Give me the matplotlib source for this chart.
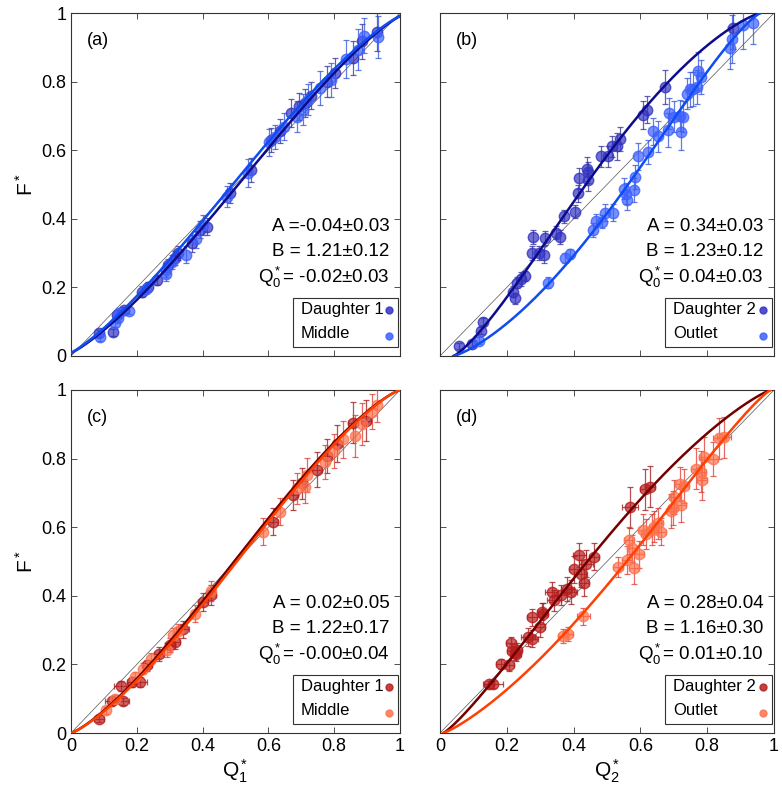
import matplotlib

matplotlib.use("Agg")
import matplotlib.pyplot as plt
import numpy as np
from matplotlib.patches import Rectangle

plt.rcParams["font.family"] = ["Liberation Sans", "DejaVu Sans"]
plt.rcParams["mathtext.fontset"] = "custom"
plt.rcParams["mathtext.rm"] = "Liberation Sans"
plt.rcParams["mathtext.it"] = "Liberation Sans"
plt.rcParams["mathtext.bf"] = "Liberation Sans:bold"

# ---- panel (a): Daughter 1 / Middle ----
a_d_x = [0.085, 0.127, 0.139, 0.162, 0.215, 0.235, 0.26, 0.296, 0.316, 0.326, 0.367, 0.392, 0.412,
         0.483, 0.546, 0.607, 0.635, 0.668, 0.694, 0.711, 0.731, 0.777, 0.803, 0.858, 0.883, 0.929]
a_d_y = [0.066, 0.069, 0.12, 0.134, 0.188, 0.202, 0.222, 0.264, 0.285, 0.30, 0.329, 0.368, 0.377,
         0.475, 0.543, 0.63, 0.655, 0.708, 0.728, 0.737, 0.759, 0.80, 0.825, 0.869, 0.917, 0.944]
a_d_e = [0.01, 0.01, 0.015, 0.01, 0.015, 0.015, 0.015, 0.02, 0.02, 0.02, 0.025, 0.025, 0.025,
         0.03, 0.035, 0.035, 0.035, 0.04, 0.04, 0.04, 0.04, 0.045, 0.045, 0.05, 0.05, 0.055]
a_m_x = [0.088, 0.134, 0.144, 0.147, 0.177, 0.228, 0.289, 0.29, 0.306, 0.35, 0.38, 0.402, 0.473,
         0.539, 0.603, 0.62, 0.647, 0.688, 0.706, 0.721, 0.757, 0.789, 0.836, 0.873, 0.89, 0.934]
a_m_y = [0.054, 0.095, 0.11, 0.126, 0.132, 0.195, 0.251, 0.239, 0.275, 0.295, 0.34, 0.382, 0.465,
         0.533, 0.623, 0.638, 0.669, 0.697, 0.718, 0.747, 0.781, 0.805, 0.866, 0.893, 0.934, 0.93]
a_m_e = [0.01, 0.01, 0.01, 0.015, 0.01, 0.015, 0.02, 0.02, 0.02, 0.025, 0.025, 0.03, 0.03,
         0.04, 0.04, 0.035, 0.04, 0.045, 0.045, 0.045, 0.05, 0.05, 0.055, 0.06, 0.05, 0.06]

# ---- panel (b): Daughter 2 / Outlet ----
b_d_x = [0.058, 0.095, 0.122, 0.128, 0.218, 0.225, 0.232, 0.242, 0.254, 0.275, 0.277, 0.295, 0.31,
         0.314, 0.347, 0.359, 0.371, 0.404, 0.414, 0.417, 0.439, 0.444, 0.444, 0.481, 0.504, 0.514,
         0.529, 0.539, 0.609, 0.621, 0.674, 0.878]
b_d_y = [0.029, 0.035, 0.074, 0.10, 0.188, 0.168, 0.214, 0.224, 0.233, 0.30, 0.346, 0.30, 0.295,
         0.343, 0.36, 0.346, 0.407, 0.421, 0.475, 0.518, 0.545, 0.535, 0.512, 0.582, 0.582, 0.611,
         0.611, 0.632, 0.703, 0.718, 0.784, 0.956]
b_d_e = [0.01, 0.01, 0.01, 0.01, 0.015, 0.015, 0.015, 0.02, 0.015, 0.02, 0.02, 0.02, 0.025,
         0.02, 0.02, 0.02, 0.02, 0.02, 0.025, 0.03, 0.035, 0.03, 0.03, 0.03, 0.03, 0.03,
         0.04, 0.035, 0.04, 0.04, 0.05, 0.06]
b_o_x = [0.118, 0.324, 0.374, 0.389, 0.457, 0.467, 0.484, 0.494, 0.517, 0.551, 0.557, 0.561, 0.581,
         0.584, 0.594, 0.624, 0.637, 0.654, 0.684, 0.687, 0.70, 0.72, 0.723, 0.728, 0.74, 0.748,
         0.758, 0.768, 0.773, 0.78, 0.868, 0.873, 0.906, 0.938]
b_o_y = [0.045, 0.214, 0.285, 0.298, 0.368, 0.395, 0.392, 0.418, 0.418, 0.488, 0.473, 0.455, 0.484,
         0.523, 0.582, 0.596, 0.655, 0.64, 0.658, 0.708, 0.698, 0.70, 0.652, 0.698, 0.765, 0.777,
         0.779, 0.785, 0.83, 0.813, 0.898, 0.924, 0.966, 0.971]
b_o_e = [0.01, 0.015, 0.015, 0.015, 0.02, 0.02, 0.02, 0.025, 0.025, 0.03, 0.03, 0.03, 0.035,
         0.035, 0.04, 0.035, 0.04, 0.045, 0.05, 0.045, 0.045, 0.045, 0.05, 0.045, 0.045, 0.05,
         0.05, 0.05, 0.055, 0.05, 0.06, 0.07, 0.07, 0.06]

# ---- panel (c): Daughter 1 / Middle ----
c_d_x = [0.086, 0.124, 0.152, 0.157, 0.184, 0.21, 0.232, 0.268, 0.301, 0.316, 0.339, 0.402, 0.427,
         0.615, 0.676, 0.701, 0.747, 0.777, 0.81, 0.858, 0.897]
c_d_y = [0.042, 0.093, 0.136, 0.093, 0.149, 0.149, 0.197, 0.23, 0.256, 0.266, 0.302, 0.382, 0.402,
         0.616, 0.694, 0.728, 0.768, 0.807, 0.844, 0.905, 0.911]
c_d_e = [0.01, 0.01, 0.015, 0.01, 0.015, 0.015, 0.015, 0.02, 0.02, 0.02, 0.025, 0.025, 0.03,
         0.04, 0.045, 0.045, 0.05, 0.05, 0.055, 0.06, 0.06]
c_d_xe = [0.015, 0.02, 0.02, 0.02, 0.015, 0.02, 0.015, 0.015, 0.015, 0.015, 0.02, 0.015, 0.015,
          0.015, 0.015, 0.015, 0.015, 0.015, 0.015, 0.015, 0.015]
c_m_x = [0.106, 0.134, 0.195, 0.218, 0.242, 0.291, 0.309, 0.326, 0.377, 0.425, 0.585, 0.635, 0.688,
         0.711, 0.716, 0.772, 0.799, 0.828, 0.863, 0.883, 0.914, 0.931]
c_m_y = [0.066, 0.10, 0.163, 0.188, 0.217, 0.243, 0.285, 0.298, 0.348, 0.414, 0.587, 0.645, 0.713,
         0.716, 0.752, 0.791, 0.823, 0.856, 0.866, 0.901, 0.937, 0.956]
c_m_e = [0.01, 0.01, 0.015, 0.015, 0.015, 0.02, 0.02, 0.02, 0.025, 0.03, 0.04, 0.04, 0.045,
         0.045, 0.05, 0.05, 0.05, 0.055, 0.06, 0.06, 0.05, 0.05]

# ---- panel (d): Daughter 2 / Outlet ----
d_d_x = [0.148, 0.16, 0.182, 0.208, 0.212, 0.215, 0.224, 0.228, 0.232, 0.264, 0.274, 0.274, 0.299,
         0.304, 0.309, 0.334, 0.341, 0.361, 0.381, 0.391, 0.401, 0.417, 0.421, 0.431, 0.437, 0.461,
         0.569, 0.614, 0.629]
d_d_y = [0.142, 0.142, 0.202, 0.197, 0.261, 0.239, 0.232, 0.23, 0.243, 0.28, 0.337, 0.275, 0.309,
         0.353, 0.348, 0.411, 0.387, 0.402, 0.421, 0.411, 0.477, 0.518, 0.465, 0.438, 0.494, 0.514,
         0.658, 0.71, 0.718]
d_d_e = [0.01, 0.01, 0.015, 0.015, 0.02, 0.02, 0.02, 0.02, 0.02, 0.025, 0.025, 0.025, 0.03,
         0.025, 0.03, 0.03, 0.03, 0.03, 0.035, 0.035, 0.04, 0.035, 0.04, 0.04, 0.04, 0.04,
         0.06, 0.06, 0.06]
d_d_xe = [0.015, 0.03, 0.015, 0.015, 0.015, 0.015, 0.015, 0.015, 0.015, 0.02, 0.015, 0.02, 0.015,
          0.015, 0.015, 0.02, 0.02, 0.02, 0.02, 0.02, 0.015, 0.02, 0.02, 0.015, 0.02, 0.015,
          0.025, 0.015, 0.015]
d_o_x = [0.369, 0.384, 0.429, 0.534, 0.559, 0.567, 0.574, 0.581, 0.597, 0.609, 0.617, 0.634, 0.641,
         0.654, 0.661, 0.691, 0.697, 0.701, 0.719, 0.723, 0.731, 0.767, 0.781, 0.784, 0.789, 0.816,
         0.836, 0.85]
d_o_y = [0.282, 0.288, 0.34, 0.484, 0.504, 0.562, 0.538, 0.48, 0.521, 0.593, 0.58, 0.593, 0.601,
         0.611, 0.587, 0.648, 0.655, 0.689, 0.726, 0.665, 0.72, 0.771, 0.762, 0.739, 0.804, 0.798,
         0.859, 0.862]
d_o_e = [0.02, 0.02, 0.025, 0.03, 0.04, 0.04, 0.04, 0.045, 0.04, 0.045, 0.045, 0.045, 0.045,
         0.045, 0.04, 0.05, 0.05, 0.05, 0.05, 0.05, 0.05, 0.06, 0.06, 0.06, 0.06, 0.05,
         0.06, 0.06]
d_o_xe = [0.015, 0.015, 0.02, 0.015, 0.015, 0.015, 0.015, 0.015, 0.015, 0.015, 0.015, 0.015, 0.015,
          0.015, 0.015, 0.015, 0.015, 0.015, 0.015, 0.015, 0.015, 0.015, 0.015, 0.015, 0.015, 0.015,
          0.02, 0.02]

# fit parameters (A, B, Q0) printed on each panel
fit_a = (-0.04, 1.21, -0.02)
fit_b = (0.34, 1.23, 0.04)
fit_c = (0.02, 1.22, -0.00)
fit_d = (0.28, 1.16, 0.01)
fit_text_a = ["A =-0.04±0.03", "B = 1.21±0.12", "Q$_0^*$= -0.02±0.03"]
fit_text_b = ["A = 0.34±0.03", "B = 1.23±0.12", "Q$_0^*$= 0.04±0.03"]
fit_text_c = ["A = 0.02±0.05", "B = 1.22±0.17", "Q$_0^*$= -0.00±0.04"]
fit_text_d = ["A = 0.28±0.04", "B = 1.16±0.30", "Q$_0^*$= 0.01±0.10"]

BLUE_DARK = dict(marker=(0.2, 0.2, 0.76), err=(0.18, 0.18, 0.6), line=(0.05, 0.05, 0.55))
BLUE_LIGHT = dict(marker=(0.24, 0.38, 1.0), err=(0.18, 0.32, 0.85), line=(0.06, 0.3, 0.95))
RED_DARK = dict(marker=(0.72, 0.12, 0.12), err=(0.62, 0.08, 0.08), line=(0.45, 0.0, 0.0))
RED_LIGHT = dict(marker=(1.0, 0.45, 0.3), err=(0.88, 0.22, 0.18), line=(1.0, 0.25, 0.0))


def pries(q, A, B, q0):
    z = (q - q0) / (1 - 2 * q0)
    return 1.0 / (1.0 + np.exp(-(A + B * np.log(z / (1 - z)))))


def draw_series(ax, x, y, ye, xe, style):
    ax.errorbar(x, y, yerr=ye, xerr=xe, fmt="o", ms=7.5, mfc=style["marker"] + (0.7,),
                mec=style["marker"] + (0.8,), ecolor=style["err"] + (0.75,),
                elinewidth=0.9, capsize=2.2, capthick=0.9, zorder=3)


def draw_legend(ax, names, st1, st2):
    ax.add_patch(Rectangle((0.675, 0.025), 0.318, 0.143, transform=ax.transAxes,
                           facecolor="white", edgecolor="#333333", lw=0.8, zorder=6))
    for name, st, ty, my in [(names[0], st1, 0.135, 0.135), (names[1], st2, 0.066, 0.058)]:
        ax.text(0.698, ty, name, fontsize=12, ha="left", va="center",
                transform=ax.transAxes, zorder=7)
        ax.plot([0.968], [my], "o", ms=5, color=st["marker"], alpha=0.85,
                transform=ax.transAxes, zorder=7)


def draw_panel(ax, tag, s1, s2, fit, texts, names, st1, st2, xlab, ylab):
    ax.plot([0, 1], [0, 1], color="#555555", lw=0.5, zorder=1)
    draw_series(ax, *s1, st1)
    draw_series(ax, *s2, st2)
    A, B, q0 = fit
    q = np.linspace(q0 + 1e-4, 1 - q0 - 1e-4, 400)
    ax.plot(q, pries(q, A, B, q0), color=st1["line"], lw=1.8, zorder=4)
    ax.plot(q, pries(q, -A, B, q0), color=st2["line"], lw=1.8, zorder=4)
    ax.set_xlim(0, 1)
    ax.set_ylim(0, 1)
    ticks = [0, 0.2, 0.4, 0.6, 0.8, 1]
    labels = ["0", "0.2", "0.4", "0.6", "0.8", "1"]
    ax.set_xticks(ticks)
    ax.set_yticks(ticks)
    ax.set_xticklabels(labels if xlab else [])
    ax.set_yticklabels(labels if ylab else [])
    ax.tick_params(direction="in", top=True, right=True, length=4, labelsize=13,
                   color="#333333", width=0.6)
    for sp in ax.spines.values():
        sp.set_color("#333333")
        sp.set_linewidth(0.8)
    if xlab:
        ax.set_xlabel(xlab, fontsize=15, labelpad=2)
    if ylab:
        ax.set_ylabel(ylab, fontsize=15, labelpad=3)
    ax.text(0.048, 0.92, tag, fontsize=13, ha="left", va="center")
    for k, t in enumerate(texts):
        ax.text(0.968, 0.378 - 0.074 * k, t, fontsize=13.5, ha="right", va="center")
    draw_legend(ax, names, st1, st2)


fig = plt.figure(figsize=(7.82, 8.02), dpi=100)
W, H = 782, 802
pos = {
    "a": [71 / W, 1 - 356 / H, 329 / W, 343 / H],
    "b": [440 / W, 1 - 356 / H, 334 / W, 343 / H],
    "c": [71 / W, 1 - 733 / H, 329 / W, 343 / H],
    "d": [440 / W, 1 - 733 / H, 334 / W, 343 / H],
}
ax_a = fig.add_axes(pos["a"])
ax_b = fig.add_axes(pos["b"])
ax_c = fig.add_axes(pos["c"])
ax_d = fig.add_axes(pos["d"])

draw_panel(ax_a, "(a)", (a_d_x, a_d_y, a_d_e, None), (a_m_x, a_m_y, a_m_e, None), fit_a,
           fit_text_a, ["Daughter 1", "Middle"], BLUE_DARK, BLUE_LIGHT, None, "F$^*$")
draw_panel(ax_b, "(b)", (b_d_x, b_d_y, b_d_e, None), (b_o_x, b_o_y, b_o_e, None), fit_b,
           fit_text_b, ["Daughter 2", "Outlet"], BLUE_DARK, BLUE_LIGHT, None, None)
draw_panel(ax_c, "(c)", (c_d_x, c_d_y, c_d_e, c_d_xe), (c_m_x, c_m_y, c_m_e, None), fit_c,
           fit_text_c, ["Daughter 1", "Middle"], RED_DARK, RED_LIGHT, "Q$_1^*$", "F$^*$")
draw_panel(ax_d, "(d)", (d_d_x, d_d_y, d_d_e, d_d_xe), (d_o_x, d_o_y, d_o_e, d_o_xe), fit_d,
           fit_text_d, ["Daughter 2", "Outlet"], RED_DARK, RED_LIGHT, "Q$_2^*$", None)

fig.savefig("out.png", dpi=100)
